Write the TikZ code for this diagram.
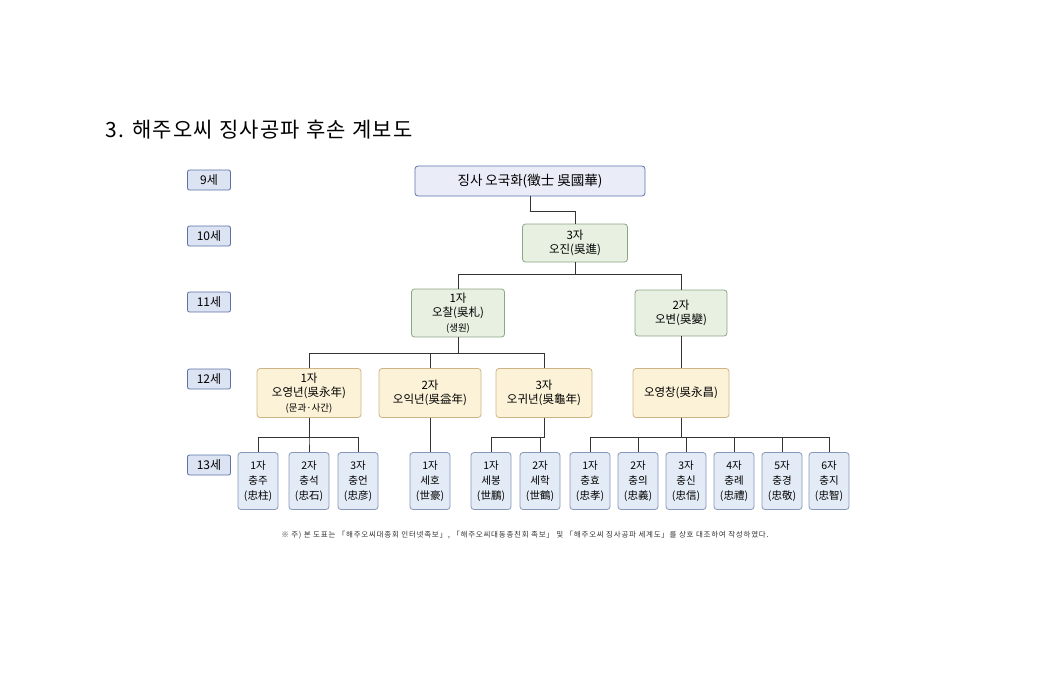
\documentclass[tikz,border=0pt]{standalone}
\usepackage{fontspec}
\setmainfont{Noto Sans CJK KR}[BoldFont={Noto Sans CJK KR Bold}]
\newfontfamily\notefont{Noto Sans CJK KR}[LetterSpace=10]
\newfontfamily\titlefont{Noto Sans CJK KR}[LetterSpace=6]
\usetikzlibrary{positioning}
\definecolor{genfill}{HTML}{DCE3F2}
\definecolor{genline}{HTML}{5A73A8}
\definecolor{topfill}{HTML}{EAEDF8}
\definecolor{grnfill}{HTML}{E7F0E1}
\definecolor{grnline}{HTML}{8DA585}
\definecolor{ylwfill}{HTML}{FCF2D8}
\definecolor{ylwline}{HTML}{CDB487}
\definecolor{blufill}{HTML}{E3EBF6}
\definecolor{bluline}{HTML}{8797B5}
\tikzset{
  gen/.style={draw=genline, fill=genfill, rounded corners=2pt, minimum width=43pt, minimum height=20pt, line width=0.8pt, font=\fontsize{12}{13}\selectfont},
  person/.style={rounded corners=3pt, align=center, inner sep=1pt, font=\fontsize{11.5}{14.5}\selectfont, line width=0.8pt},
  green/.style={person, draw=grnline, fill=grnfill},
  yellow/.style={person, draw=ylwline, fill=ylwfill, minimum width=98pt, minimum height=49pt},
  son/.style={person, draw=bluline, fill=blufill, minimum width=40pt, minimum height=57pt, text width=38pt, font=\fontsize{10.5}{15}\selectfont},
  link/.style={line width=1pt, black!80}
}
\begin{document}
\begin{tikzpicture}[x=1pt,y=-1pt]
    \useasboundingbox (0,0) rectangle (1063,699);
    % Title
    \node[anchor=west, font=\titlefont\fontsize{21}{24}\selectfont] (title) at (102,130) {3. 해주오씨 징사공파 후손 계보도};

    % Generation labels
    \node[gen] (g9) at (209,180) {9세};
    \node[gen] (g10) at (209,236) {10세};
    \node[gen] (g11) at (209,302) {11세};
    \node[gen] (g12) at (209,379) {12세};
    \node[gen] (g13) at (209,465) {13세};

    % 9 - 11
    \node[person, draw=genline, fill=topfill, minimum width=230pt, minimum height=30pt, font=\fontsize{13.5}{15}\selectfont] (root) at (530,181) {징사 오국화(徵士 吳國華)};
    \node[green, minimum width=105pt, minimum height=38pt] (jin) at (575,243) {3자\\오진(吳進)};
    \node[green, minimum width=93pt, minimum height=48pt] (chal) at (458,313) {1자\\오찰(吳札)\\{\fontsize{9.5}{12}\selectfont(생원)}};
    \node[green, minimum width=92pt, minimum height=46pt] (byeon) at (681,313) {2자\\오변(吳變)};

    % 12
    \node[yellow, minimum width=104pt] (yn) at (309,393) {1자\\오영년(吳永年)\\{\fontsize{9.5}{12}\selectfont(문과·사간)}};
    \node[yellow, minimum width=102pt] (in) at (430,393) {2자\\오익년(吳益年)};
    \node[yellow, minimum width=96pt] (gn) at (544,393) {3자\\오귀년(吳龜年)};
    \node[yellow, minimum width=96pt] (yc) at (681,393) {오영창(吳永昌)};

    % 13
    \node[son] (s1) at (258,481) {1자\\충주\\(忠柱)};
    \node[son] (s2) at (309,481) {2자\\충석\\(忠石)};
    \node[son] (s3) at (358,481) {3자\\충언\\(忠彦)};
    \node[son] (s4) at (430,481) {1자\\세호\\(世豪)};
    \node[son] (s5) at (491,481) {1자\\세봉\\(世鵬)};
    \node[son] (s6) at (540,481) {2자\\세학\\(世鶴)};
    \node[son] (s7) at (590,481) {1자\\충효\\(忠孝)};
    \node[son] (s8) at (638,481) {2자\\충의\\(忠義)};
    \node[son] (s9) at (686,481) {3자\\충신\\(忠信)};
    \node[son] (s10) at (734,481) {4자\\충례\\(忠禮)};
    \node[son] (s11) at (782,481) {5자\\충경\\(忠敬)};
    \node[son] (s12) at (829,481) {6자\\충지\\(忠智)};

    % Connectors
    \draw[link] (root.south) -- ++(0,15) -| (jin.north);
    \foreach \c in {chal, byeon} \draw[link] (jin.south) -- ++(0,12) -| (\c.north);
    \foreach \c in {yn, in, gn} \draw[link] (chal.south) -- ++(0,16) -| (\c.north);
    \draw[link] (byeon) -- (yc);
    \foreach \c in {s1, s2, s3} \draw[link] (yn.south) -- ++(0,20) -| (\c.north);
    \draw[link] (in) -- (s4);
    \foreach \c in {s5, s6} \draw[link] (gn.south) -- ++(0,20) -| (\c.north);
    \foreach \c in {s7, s8, s9, s10, s11, s12} \draw[link] (yc.south) -- ++(0,20) -| (\c.north);

    % Note
    \node[font=\notefont\fontsize{7.5}{9}\selectfont, black!80] (note) at (525,535) {※ 주) 본 도표는 「해주오씨대종회 인터넷족보」, 「해주오씨대동종친회 족보」 및 「해주오씨 징사공파 세계도」를 상호 대조하여 작성하였다.};
\end{tikzpicture}
\end{document}
